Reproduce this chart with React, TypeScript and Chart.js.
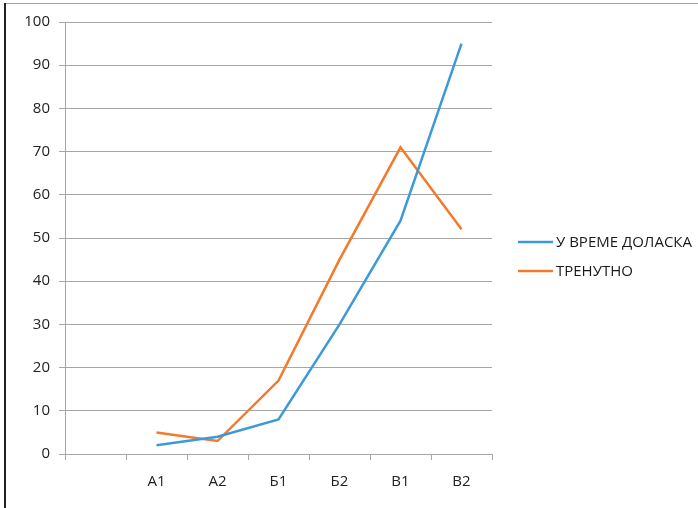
import React, { useEffect, useRef } from "react";
import { Chart, registerables } from "chart.js";

Chart.register(...registerables);

const categories = ["", "A1", "A2", "Б1", "Б2", "В1", "В2"];
const seriesNames = ["У ВРЕМЕ ДОЛАСКА", "ТРЕНУТНО"];
const arrivalValues = [null, 2, 4, 8, 30, 54, 95];
const currentValues = [null, 5, 3, 17, 45, 71, 52];
const yTicks = { min: 0, max: 100, step: 10 };

const BLUE = "#3d9ad9";
const ORANGE = "#f5792a";
const GRID = "#a6a6a6";
const FONT = "'Open Sans', 'Liberation Sans', sans-serif";

const legendPlugin = {
  id: "sideLegend",
  afterDraw(chart: any) {
    const ctx = chart.ctx;
    const x0 = 518;
    const ys = [242, 271];
    ctx.save();
    chart.data.datasets.forEach((ds: any, i: number) => {
      const y = ys[i];
      ctx.strokeStyle = ds.borderColor;
      ctx.lineWidth = 2.5;
      ctx.beginPath();
      ctx.moveTo(x0, y);
      ctx.lineTo(x0 + 35, y);
      ctx.stroke();
      ctx.fillStyle = "#1a1a1a";
      ctx.font = `15px ${FONT}`;
      ctx.textBaseline = "middle";
      ctx.textAlign = "left";
      ctx.fillText(ds.label, x0 + 38, y + 1);
    });
    ctx.restore();
  },
};

export default function App() {
  const ref = useRef<HTMLCanvasElement | null>(null);
  useEffect(() => {
    if (!ref.current) return;
    const chart = new Chart(ref.current, {
      type: "line",
      data: {
        labels: categories,
        datasets: [
          {
            label: seriesNames[0],
            data: arrivalValues,
            borderColor: BLUE,
            backgroundColor: BLUE,
            borderWidth: 2.5,
            pointRadius: 0,
            tension: 0,
            spanGaps: false,
          },
          {
            label: seriesNames[1],
            data: currentValues,
            borderColor: ORANGE,
            backgroundColor: ORANGE,
            borderWidth: 2.5,
            pointRadius: 0,
            tension: 0,
            spanGaps: false,
          },
        ],
      },
      options: {
        animation: false,
        responsive: false,
        maintainAspectRatio: false,
        layout: { padding: { left: 0, right: 206, top: 22, bottom: 0 } },
        plugins: {
          legend: { display: false },
          tooltip: { enabled: false },
        },
        scales: {
          x: {
            type: "category",
            offset: true,
            grid: {
              offset: true,
              drawOnChartArea: false,
              drawTicks: true,
              tickLength: 6,
              color: GRID,
            },
            border: { color: GRID, width: 1 },
            ticks: {
              color: "#222",
              font: { family: FONT, size: 15 },
              padding: 13,
              maxRotation: 0,
              autoSkip: false,
            },
            afterFit: (s: any) => {
              s.height = 54;
            },
          },
          y: {
            min: yTicks.min,
            max: yTicks.max,
            grid: {
              color: GRID,
              drawTicks: true,
              tickLength: 6,
            },
            border: { color: GRID, width: 1 },
            ticks: {
              stepSize: yTicks.step,
              color: "#222",
              font: { family: FONT, size: 15 },
              padding: 9,
            },
            afterFit: (s: any) => {
              s.width = 65;
            },
          },
        },
      },
      plugins: [legendPlugin],
    });
    return () => chart.destroy();
  }, []);

  return (
    <div style={{ position: "fixed", left: 0, top: 0, width: 698, height: 508, background: "#fff" }}>
      <canvas ref={ref} width={698} height={508} style={{ position: "absolute", left: 0, top: 0 }} />
      <div style={{ position: "absolute", left: 4, top: 3, right: 0, height: 1, background: "#a0a0a0" }} />
      <div style={{ position: "absolute", left: 4, top: 3, bottom: 0, width: 2, background: "#222" }} />
    </div>
  );
}
